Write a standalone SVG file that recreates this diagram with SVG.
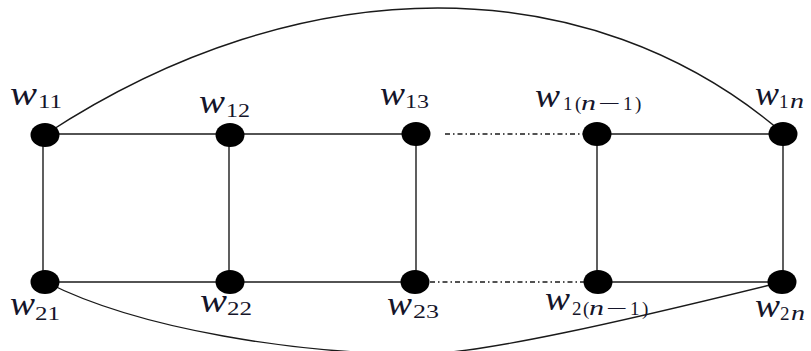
<svg xmlns="http://www.w3.org/2000/svg" width="811" height="351" viewBox="0 0 811 351">
<style>
.e{stroke:#1a1a1a;stroke-width:1.4;fill:none}
.d{stroke:#1a1a1a;stroke-width:1.3;fill:none;stroke-dasharray:5 3 1.5 3}
.n{fill:#000}
.w{font-family:"Liberation Serif","Times New Roman",serif;font-style:italic;font-size:33px;fill:#15152a}
.s{font-family:"Liberation Serif","Times New Roman",serif;font-size:19px;fill:#15152a}
.i{font-family:"Liberation Serif","Times New Roman",serif;font-style:italic;font-size:20px;fill:#15152a}
</style>
<rect width="811" height="351" fill="#fff"/>
<g id="connectors">
<path class="e" d="M46,134 C302,-34 589,-34 784,134"/>
<path class="e" d="M46,282 C140,330 300,354 420,354 C480,354 620,322 782,282"/>
<line class="e" x1="45" y1="134" x2="416" y2="134"/>
<line class="e" x1="597" y1="134" x2="783" y2="134"/>
<line class="e" x1="45" y1="282" x2="416" y2="282"/>
<line class="e" x1="597" y1="282" x2="783" y2="282"/>
<line class="d" x1="445" y1="134" x2="583" y2="134"/>
<line class="d" x1="430" y1="282" x2="585" y2="282"/>
<line class="e" x1="43" y1="134" x2="43" y2="282"/>
<line class="e" x1="229" y1="134" x2="229" y2="282"/>
<line class="e" x1="416" y1="134" x2="416" y2="282"/>
<line class="e" x1="597" y1="134" x2="597" y2="282"/>
<line class="e" x1="783" y1="134" x2="783" y2="282"/>
</g>
<g id="w11"><ellipse class="n" cx="45" cy="135" rx="14.5" ry="12"/><text class="w" x="10" y="105" textLength="27" lengthAdjust="spacingAndGlyphs">w</text><text class="s" x="38" y="108" textLength="24" lengthAdjust="spacingAndGlyphs">11</text></g>
<g id="w12"><ellipse class="n" cx="230" cy="135" rx="14.5" ry="12"/><text class="w" x="199" y="113" textLength="26" lengthAdjust="spacingAndGlyphs">w</text><text class="s" x="226" y="117" textLength="24" lengthAdjust="spacingAndGlyphs">12</text></g>
<g id="w13"><ellipse class="n" cx="416" cy="134" rx="14.5" ry="12"/><text class="w" x="380" y="105" textLength="25" lengthAdjust="spacingAndGlyphs">w</text><text class="s" x="405" y="108" textLength="24" lengthAdjust="spacingAndGlyphs">13</text></g>
<g id="w1n-1"><ellipse class="n" cx="597" cy="134" rx="14.5" ry="12"/><text class="w" x="535" y="107" textLength="25" lengthAdjust="spacingAndGlyphs">w</text><text class="s" y="110"><tspan x="563">1</tspan><tspan x="575">(</tspan><tspan x="623">1</tspan><tspan x="635">)</tspan></text><text class="i" transform="translate(581,110) scale(1.5,1)">n</text><text class="s" transform="translate(598,110) scale(2.1,1)">−</text></g>
<g id="w1n"><ellipse class="n" cx="783" cy="134" rx="14.5" ry="12"/><text class="w" x="755" y="105" textLength="24" lengthAdjust="spacingAndGlyphs">w</text><text class="s" x="779" y="108">1</text><text class="i" transform="translate(790,108) scale(1.4,1)">n</text></g>
<g id="w21"><ellipse class="n" cx="45" cy="282" rx="14.5" ry="12"/><text class="w" x="10" y="315" textLength="25" lengthAdjust="spacingAndGlyphs">w</text><text class="s" x="35" y="320" textLength="25" lengthAdjust="spacingAndGlyphs">21</text></g>
<g id="w22"><ellipse class="n" cx="230" cy="282" rx="14.5" ry="12"/><text class="w" x="200" y="312" textLength="27" lengthAdjust="spacingAndGlyphs">w</text><text class="s" x="227" y="315" textLength="25" lengthAdjust="spacingAndGlyphs">22</text></g>
<g id="w23"><ellipse class="n" cx="415" cy="282" rx="14.5" ry="12"/><text class="w" x="387" y="315" textLength="25" lengthAdjust="spacingAndGlyphs">w</text><text class="s" x="413" y="318" textLength="26" lengthAdjust="spacingAndGlyphs">23</text></g>
<g id="w2n-1"><ellipse class="n" cx="598" cy="282" rx="14.5" ry="12"/><text class="w" x="545" y="310" textLength="25" lengthAdjust="spacingAndGlyphs">w</text><text class="s" y="315"><tspan x="572">2</tspan><tspan x="583">(</tspan><tspan x="630">1</tspan><tspan x="642">)</tspan></text><text class="i" transform="translate(589,315) scale(1.5,1)">n</text><text class="s" transform="translate(606,315) scale(2,1)">−</text></g>
<g id="w2n"><ellipse class="n" cx="782" cy="282" rx="14.5" ry="12"/><text class="w" x="755" y="317" textLength="25" lengthAdjust="spacingAndGlyphs">w</text><text class="s" x="780" y="320">2</text><text class="i" transform="translate(791,320) scale(1.4,1)">n</text></g>
</svg>
